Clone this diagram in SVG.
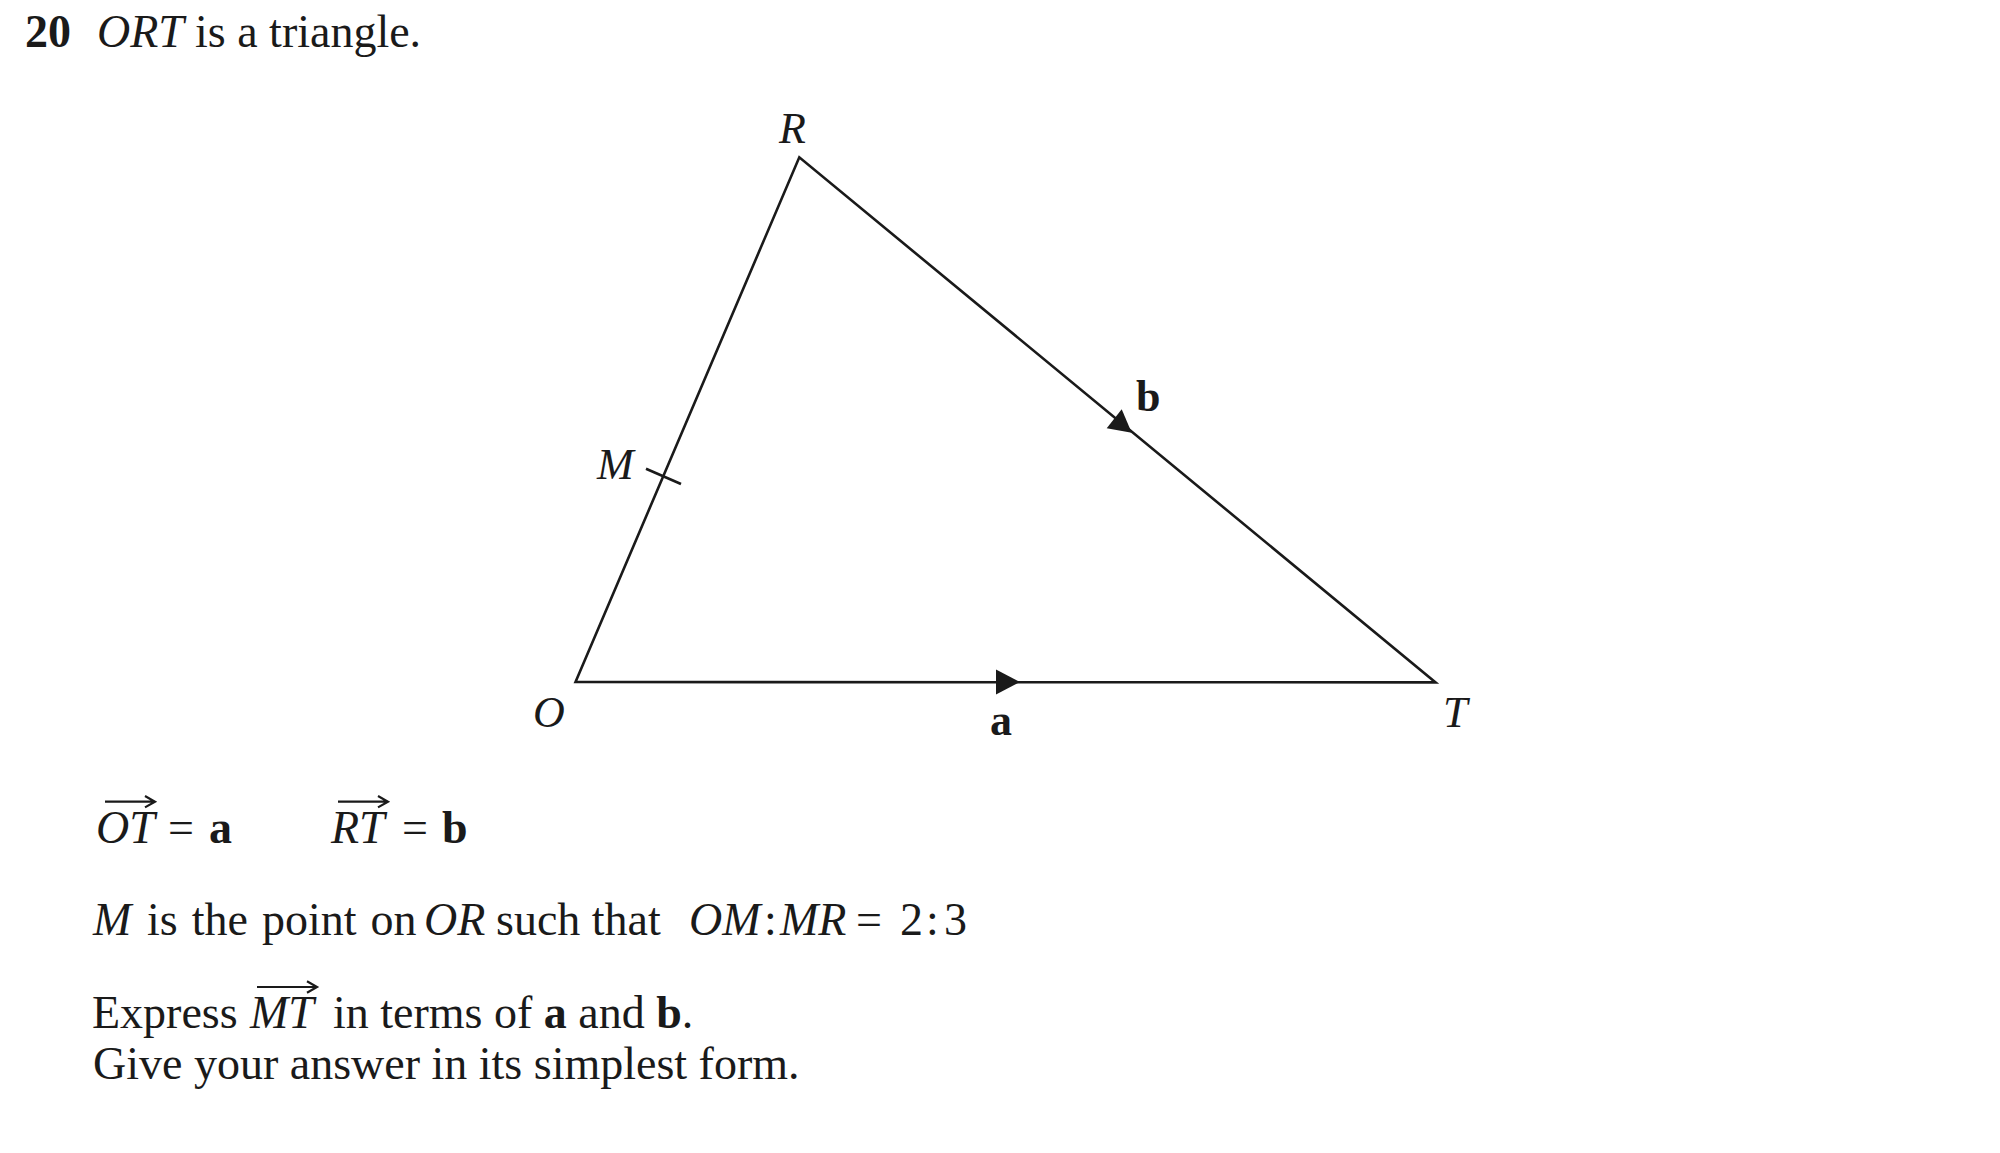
<svg xmlns="http://www.w3.org/2000/svg" width="2000" height="1153" viewBox="0 0 2000 1153">
<style>
text{font-family:"Liberation Serif","Times New Roman",serif;fill:#1a1a1a}
.body{font-size:46px}
.lab{font-size:44px;font-style:italic}
.it{font-style:italic}
.bf{font-weight:bold}
.edge{fill:none;stroke:#1a1a1a;stroke-width:2.6;stroke-linejoin:miter}
.head{fill:#1a1a1a;stroke:none}
.vec{fill:none;stroke:#1a1a1a;stroke-width:2.2;stroke-linecap:butt}
</style>
<rect x="0" y="0" width="2000" height="1153" fill="#ffffff"/>

<g id="title">
<text class="body" x="25" y="47"><tspan class="bf">20</tspan><tspan x="97" class="it">ORT</tspan><tspan x="195">is a triangle.</tspan></text>
</g>

<g id="connectors">
<path class="edge" d="M575.5,682 L799.3,157.3 L1435.6,682.4 Z"/>
<path class="edge" d="M646,468.7 L681,484"/>
<polygon class="head" points="1020,682 996,669.5 996,694.5"/>
<polygon class="head" points="1131.7,432.7 1106.7,428.3 1121.7,409.3"/>
</g>

<g id="node-R"><text class="lab" x="779" y="143">R</text></g>
<g id="node-M"><text class="lab" x="597" y="479">M</text></g>
<g id="node-O"><text class="lab" x="533" y="727">O</text></g>
<g id="node-T"><text class="lab" x="1443" y="727">T</text></g>
<g id="label-a"><text class="lab bf" style="font-style:normal" x="990" y="735">a</text></g>
<g id="label-b"><text class="lab bf" style="font-style:normal" x="1136" y="411">b</text></g>

<g id="vectors">
<text class="body" x="96" y="843"><tspan class="it">OT</tspan><tspan x="168">=</tspan><tspan x="209" class="bf">a</tspan></text>
<path class="vec" d="M105,801.7 H155 M145,796 L155,801.7 L145,807.4"/>
<text class="body" x="331" y="843"><tspan class="it">RT</tspan><tspan x="402">=</tspan><tspan x="442" class="bf">b</tspan></text>
<path class="vec" d="M338,801.7 H388 M378,796 L388,801.7 L378,807.4"/>
</g>

<g id="ratio">
<text class="body" x="93" y="935"><tspan class="it">M</tspan><tspan x="147" word-spacing="2.5">is the point on</tspan><tspan x="424" class="it">OR</tspan><tspan x="496">such that</tspan><tspan x="689" class="it">OM</tspan><tspan x="764">:</tspan><tspan x="780" class="it">MR</tspan><tspan x="856">=</tspan><tspan x="900">2</tspan><tspan x="926">:</tspan><tspan x="944">3</tspan></text>
</g>

<g id="question">
<text class="body" x="92" y="1028">Express <tspan x="250" class="it">MT</tspan><tspan x="333">in terms of </tspan><tspan class="bf">a</tspan> and <tspan class="bf">b</tspan>.</text>
<path class="vec" d="M257,987 H317 M307,981.3 L317,987 L307,992.7"/>
<text class="body" x="93" y="1079">Give your answer in its simplest form.</text>
</g>
</svg>
